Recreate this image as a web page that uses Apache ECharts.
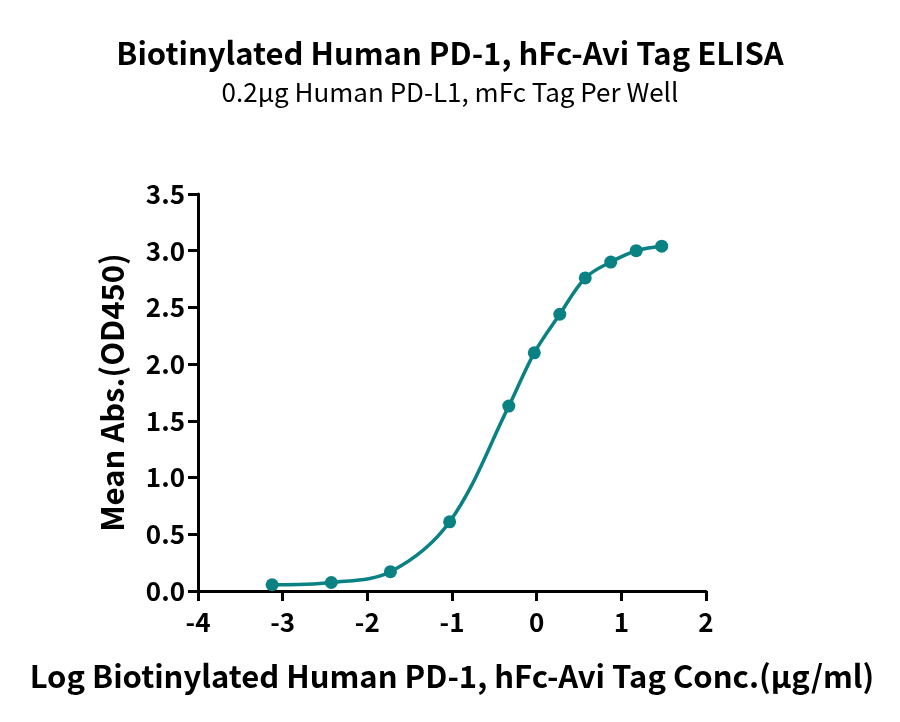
<!DOCTYPE html>
<html>
<head>
<meta charset="utf-8">
<script src="https://cdn.jsdelivr.net/npm/echarts@6/dist/echarts.min.js"></script>
<style>
	html, body { margin: 0; padding: 0; background: #fff; }
	#chart { width: 900px; height: 722px; }
</style>
</head>
<body>
<div id="chart"></div>
<script>
// log10 of concentration (µg/ml)
const logConc = [-3.125, -2.426, -1.727, -1.028, -0.329, -0.028, 0.273, 0.574, 0.875, 1.176, 1.477]
// mean OD450
const meanAbs = [0.055, 0.075, 0.17, 0.61, 1.63, 2.1, 2.44, 2.76, 2.9, 3.0, 3.04]

const teal = '#0a8182'
const font = '"Noto Sans CJK SC", "Noto Sans", sans-serif'

const chart = echarts.init(document.getElementById('chart'))
const option = {
	animation: false,
	textStyle: { fontFamily: font },
	title: {
		left: 'center',
		top: 33,
		text: 'Biotinylated Human PD-1, hFc-Avi Tag ELISA',
		subtext: '0.2µg Human PD-L1, mFc Tag Per Well',
		itemGap: 10,
		textStyle: { fontFamily: font, fontSize: 31, fontWeight: 'bold', color: '#000' },
		subtextStyle: { fontFamily: font, fontSize: 26, color: '#000' }
	},
	grid: { left: 198, right: 194, top: 194, bottom: 131, containLabel: false },
	xAxis: {
		type: 'value',
		min: -4,
		max: 2,
		interval: 1,
		name: 'Log Biotinylated Human PD-1, hFc-Avi Tag Conc.(µg/ml)',
		nameLocation: 'middle',
		nameGap: 70,
		nameTextStyle: { fontFamily: font, fontSize: 31, fontWeight: 'bold', color: '#000' },
		axisLine: { onZero: false, lineStyle: { color: '#000', width: 3 } },
		axisTick: { show: true, length: 10, lineStyle: { color: '#000', width: 3 } },
		axisLabel: { fontFamily: font, fontSize: 26, fontWeight: 'bold', color: '#000', margin: 18 },
		splitLine: { show: false }
	},
	yAxis: {
		type: 'value',
		min: 0,
		max: 3.5,
		interval: 0.5,
		name: 'Mean Abs.(OD450)',
		nameLocation: 'middle',
		nameGap: 70,
		nameTextStyle: { fontFamily: font, fontSize: 31, fontWeight: 'bold', color: '#000' },
		axisLine: { show: true, onZero: false, lineStyle: { color: '#000', width: 3 } },
		axisTick: { show: true, length: 10, lineStyle: { color: '#000', width: 3 } },
		axisLabel: {
			fontFamily: font, fontSize: 26, fontWeight: 'bold', color: '#000', margin: 13,
			formatter: (v) => v.toFixed(1)
		},
		splitLine: { show: false }
	},
	series: [
		{
			type: 'line',
			data: logConc.map((x, i) => [x, meanAbs[i]]),
			smooth: 0.35,
			symbol: 'circle',
			symbolSize: 13,
			showSymbol: true,
			lineStyle: { color: teal, width: 3.5 },
			itemStyle: { color: teal }
		}
	]
}
chart.setOption(option)
</script>
</body>
</html>
